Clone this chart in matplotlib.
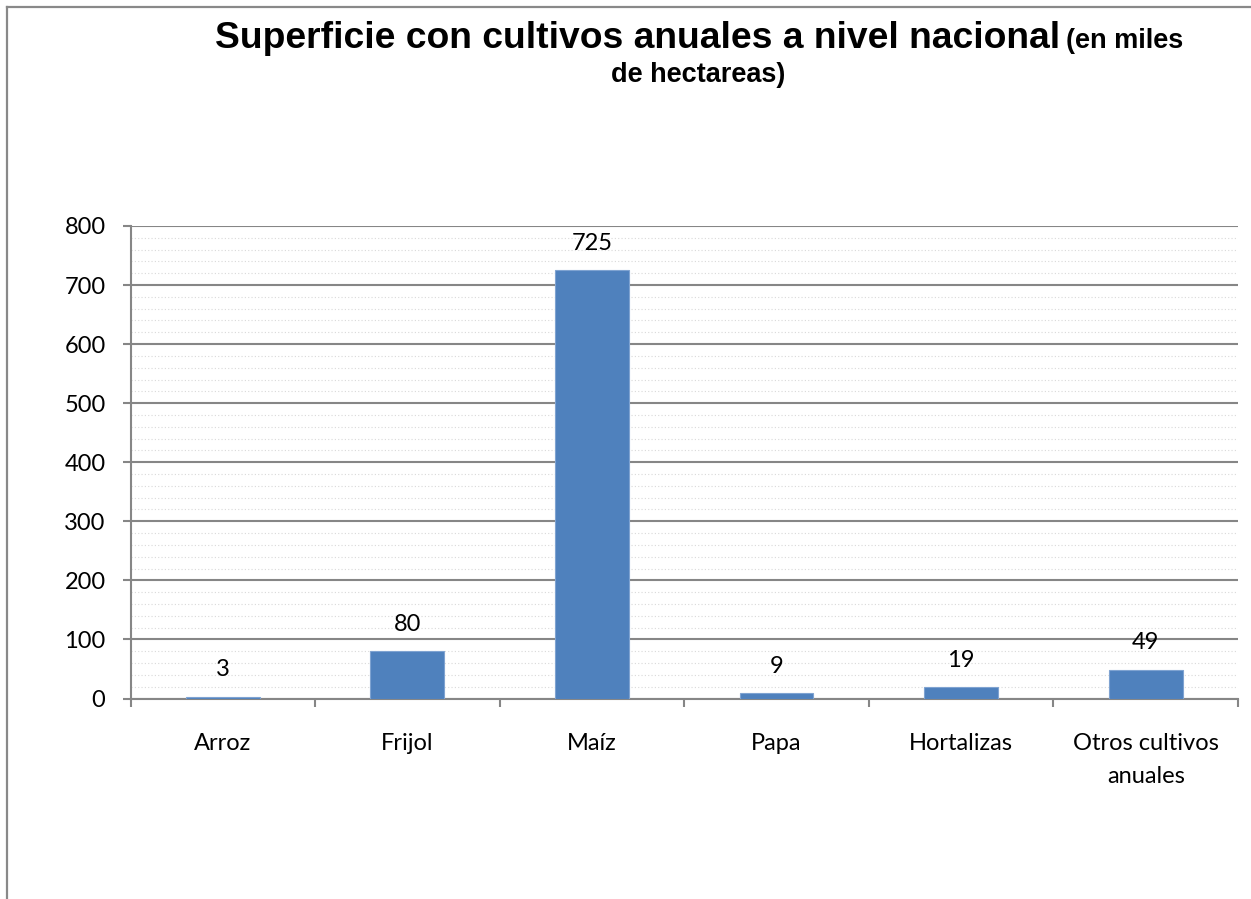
import matplotlib
matplotlib.use("Agg")
import matplotlib.pyplot as plt
from matplotlib.lines import Line2D
from matplotlib.ticker import MultipleLocator, FixedLocator

categories = ["Arroz", "Frijol", "Maíz", "Papa", "Hortalizas", "Otros cultivos\nanuales"]
values = [3, 80, 725, 9, 19, 49]

W, H = 1251, 899
BAR = "#4F81BD"
GRID = "#868686"

fig = plt.figure(figsize=(W / 100, H / 100), dpi=100)
fig.patch.set_facecolor("white")

def fx(px):
    return px / W

def fy(py):
    return 1 - py / H

# outer frame (only top and left visible)
fig.add_artist(Line2D([fx(7), fx(7)], [fy(7), 0], color="#898989", lw=1.6))
fig.add_artist(Line2D([fx(7), 1], [fy(7), fy(7)], color="#898989", lw=1.6))

ax = fig.add_axes([fx(130.5), fy(698.5), fx(1238) - fx(130.5), fy(226) - fy(698.5)])

x = list(range(len(categories)))
ax.bar(x, values, width=0.4, color=BAR, edgecolor="#7FA3D1", linewidth=0.8, zorder=3)

for xi, v in zip(x, values):
    ax.annotate(str(v), (xi, v), xytext=(0, 27), textcoords="offset pixels",
                ha="center", va="center", fontsize=17, family="Lato", zorder=4)

ax.set_xlim(-0.5, len(categories) - 0.5)
ax.set_ylim(0, 800)
ax.yaxis.set_major_locator(MultipleLocator(100))
ax.yaxis.set_minor_locator(MultipleLocator(20))
ax.set_xticks(x)
ax.set_xticklabels(categories, family="Lato", fontsize=17, linespacing=1.7)
ax.xaxis.set_minor_locator(FixedLocator([i - 0.5 for i in range(len(categories) + 1)]))

ax.tick_params(axis="x", which="major", length=0, pad=25)
ax.tick_params(axis="x", which="minor", length=6, width=1.5, color=GRID, direction="out")
ax.tick_params(axis="y", which="major", length=6, width=1.5, color=GRID, pad=12,
               labelsize=17)
ax.tick_params(axis="y", which="minor", length=0)
for lab in ax.get_yticklabels():
    lab.set_family("Lato")

ax.grid(axis="y", which="major", color=GRID, lw=1.5, zorder=1)
ax.grid(axis="y", which="minor", color="#D9D9D9", lw=0.8, ls=(0, (1, 2)), zorder=1)
ax.set_axisbelow(True)

for s in ["top", "right"]:
    ax.spines[s].set_visible(False)
for s in ["left", "bottom"]:
    ax.spines[s].set_color(GRID)
    ax.spines[s].set_linewidth(1.5)

# title in two sizes
fig.text(fx(215), fy(47.7), "Superficie con cultivos anuales a nivel nacional",
         family="Liberation Sans", fontweight="bold", fontsize=26.8,
         ha="left", va="baseline")
fig.text(fx(1066), fy(47.7), "(en miles", family="Liberation Sans",
         fontweight="bold", fontsize=19.5, ha="left", va="baseline")
fig.text(fx(698), fy(82), "de hectareas)", family="Liberation Sans",
         fontweight="bold", fontsize=19.5, ha="center", va="baseline")

fig.savefig("out.png", dpi=100)
